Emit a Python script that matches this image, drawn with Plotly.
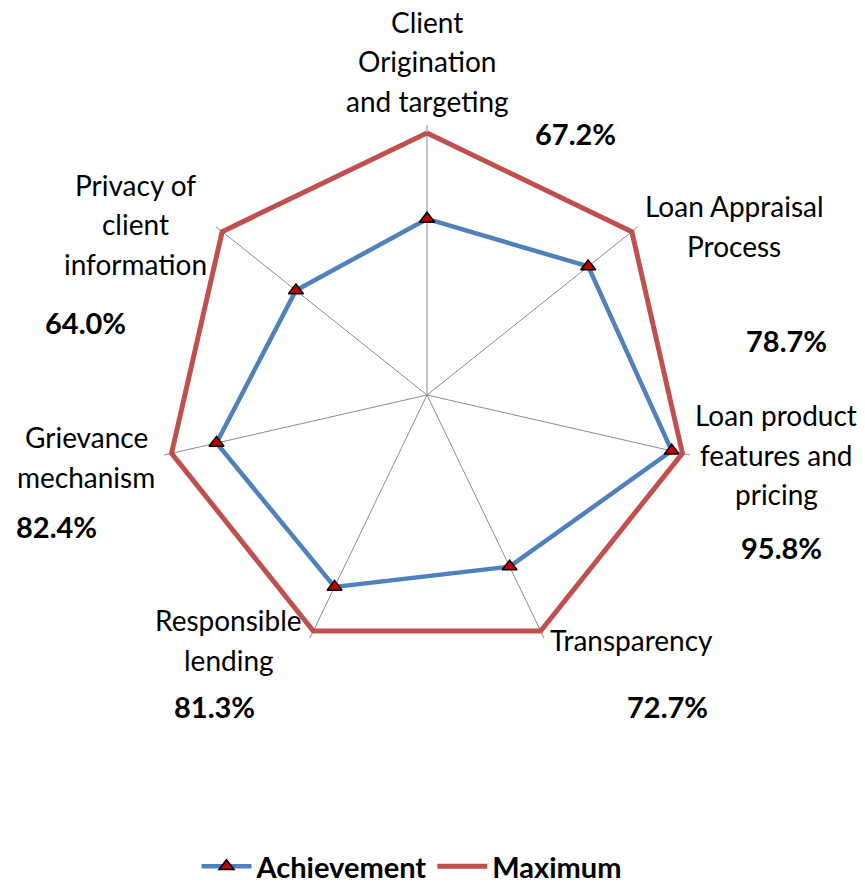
import plotly.graph_objects as go

categories = ["Client Origination and targeting", "Loan Appraisal Process",
              "Loan product features and pricing", "Transparency",
              "Responsible lending", "Grievance mechanism",
              "Privacy of client information"]
achievement = [67.2, 78.7, 95.8, 72.7, 81.3, 82.4, 64.0]
maximum = [100, 100, 100, 100, 100, 100, 100]
pct_labels = ["67.2%", "78.7%", "95.8%", "72.7%", "81.3%", "82.4%", "64.0%"]
label_lines = [["Client", "Origination", "and targeting"],
               ["Loan Appraisal", "Process"],
               ["Loan product", "features and", "pricing"],
               ["Transparency"],
               ["Responsible", "lending"],
               ["Grievance", "mechanism"],
               ["Privacy of", "client", "information"]]

W, H = 865, 892
FONT = "Lato, Carlito, Calibri, sans-serif"
# layout: pixel anchors (center x, first-line center y) for category labels
label_pos = [(427, 22), (734, 206), (776, 415), (631, 640), (229, 620), (86, 437), (135, 185)]
pct_pos = [(575, 133), (786, 340), (781, 547), (667, 706), (214, 706), (57, 526), (85, 322)]
LINE_GAP = 39.5
RMAX = 103  # axis range slightly beyond 100 so the outer line is not clipped

cat_closed = categories + categories[:1]

fig = go.Figure()
fig.add_trace(go.Scatterpolar(
    r=achievement + achievement[:1], theta=cat_closed, name="Achievement",
    mode="lines+markers",
    line=dict(color="#4F81BD", width=4.5),
    marker=dict(symbol="triangle-up", size=13, color="#C00000",
                line=dict(color="black", width=1.5)),
))
fig.add_trace(go.Scatterpolar(
    r=maximum + maximum[:1], theta=cat_closed, name="Maximum",
    mode="lines", line=dict(color="#C0504D", width=5),
))

cx, cy = 427, 395
rad = 262 * RMAX / 100
fig.update_layout(
    width=W, height=H, margin=dict(l=0, r=0, t=0, b=0, autoexpand=False),
    paper_bgcolor="white", plot_bgcolor="white",
    font=dict(family=FONT, size=24, color="black"),
    polar=dict(
        domain=dict(x=[(cx - rad) / W, (cx + rad) / W],
                    y=[1 - (cy + rad) / H, 1 - (cy - rad) / H]),
        gridshape="linear", bgcolor="rgba(0,0,0,0)",
        radialaxis=dict(visible=False, range=[0, RMAX], showgrid=False),
        angularaxis=dict(direction="clockwise", rotation=90, showgrid=True,
                         gridcolor="#8C8C8C", gridwidth=1.2, showline=False,
                         ticks="", showticklabels=False),
    ),
    legend=dict(orientation="h", x=412 / W, xanchor="center", y=0.0, yanchor="bottom",
                font=dict(family=FONT, size=29, color="black", weight="bold"),
                itemwidth=50, tracegroupgap=0),
    showlegend=True,
)

annotations = []
for lines, (lx, ly) in zip(label_lines, label_pos):
    for i, t in enumerate(lines):
        annotations.append(dict(x=lx / W, y=1 - (ly + i * LINE_GAP) / H, xref="paper", yref="paper",
                                text=t, showarrow=False, xanchor="center", yanchor="middle",
                                font=dict(family=FONT, size=28, color="black")))
for t, (px, py) in zip(pct_labels, pct_pos):
    annotations.append(dict(x=px / W, y=1 - py / H, xref="paper", yref="paper",
                            text="<b>" + t + "</b>", showarrow=False, xanchor="center", yanchor="middle",
                            font=dict(family=FONT, size=29, color="black")))
fig.update_layout(annotations=annotations)

fig.write_html("out.html")
